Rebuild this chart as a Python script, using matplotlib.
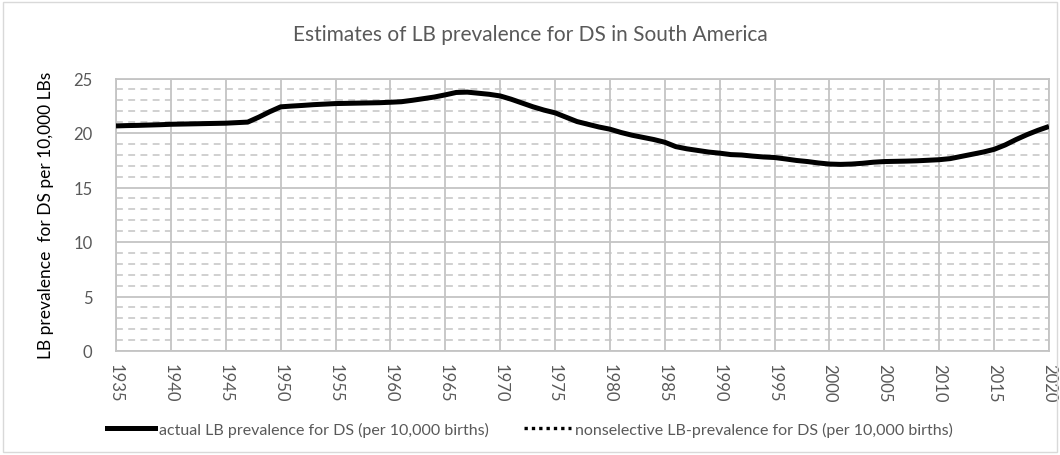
import numpy as np
import matplotlib.pyplot as plt
from matplotlib.patches import Rectangle
from matplotlib.lines import Line2D

years = list(range(1935, 2021))
actual_lb = [
    20.65, 20.68, 20.70, 20.73, 20.76, 20.80, 20.82, 20.84, 20.86, 20.88,   # 1935-1944
    20.90, 20.95, 21.00, 21.45, 21.95, 22.40, 22.47, 22.53, 22.60, 22.65,   # 1945-1954
    22.70, 22.72, 22.74, 22.76, 22.78, 22.82, 22.87, 23.00, 23.15, 23.30,   # 1955-1964
    23.50, 23.72, 23.75, 23.65, 23.55, 23.40, 23.10, 22.75, 22.40, 22.10,   # 1965-1974
    21.85, 21.45, 21.05, 20.80, 20.55, 20.35, 20.05, 19.80, 19.60, 19.40,   # 1975-1984
    19.15, 18.75, 18.55, 18.40, 18.25, 18.15, 18.02, 17.98, 17.88, 17.80,   # 1985-1994
    17.75, 17.62, 17.48, 17.38, 17.25, 17.15, 17.12, 17.15, 17.22, 17.32,   # 1995-2004
    17.38, 17.40, 17.42, 17.45, 17.50, 17.55, 17.65, 17.85, 18.05, 18.25,   # 2005-2014
    18.50, 18.90, 19.40, 19.85, 20.25, 20.60,                               # 2015-2020
]
# second series is in the legend but has no visible points
nonselective_lb = []

title = 'Estimates of LB prevalence for DS in South America'
ylabel = 'LB prevalence  for DS per 10,000 LBs'
label_actual = 'actual LB prevalence for DS (per 10,000 births)'
label_nonsel = 'nonselective LB-prevalence for DS (per 10,000 births)'
xticks = list(range(1935, 2021, 5))
yticks = list(range(0, 26, 5))

plt.rcParams['font.family'] = ['Lato', 'DejaVu Sans']
grey_txt = '#595959'
grid_c = '#c4c4c4'

fig = plt.figure(figsize=(10.6, 4.56), dpi=100)
ax = fig.add_axes([116/1060, 1 - 352/456, (1049 - 116)/1060, (352 - 79.5)/456])

ax.plot(years, actual_lb, color='black', lw=3.6, solid_capstyle='butt', zorder=3)
ax.plot(years[:len(nonselective_lb)], nonselective_lb, color='black', lw=2.4, ls=(0, (1, 1.2)))

ax.set_xlim(1935, 2020)
ax.set_ylim(0, 25)
ax.set_xticks(xticks)
ax.set_yticks(yticks)
ax.set_yticks(np.arange(0, 25, 1), minor=True)
ax.set_xticklabels([str(y) for y in xticks], rotation=-90, color=grey_txt, fontsize=12)
ax.set_yticklabels([str(v) for v in yticks], color=grey_txt, fontsize=12)
ax.tick_params(axis='both', which='both', length=0)
ax.tick_params(axis='x', pad=9)
ax.tick_params(axis='y', pad=17)

ax.grid(True, which='major', color=grid_c, lw=1.3)
ax.grid(True, which='minor', axis='y', color=grid_c, lw=1.1, ls=(0, (4.5, 3.5)))
ax.set_axisbelow(True)
for s in ax.spines.values():
    s.set_color(grid_c)
    s.set_linewidth(1.3)

ax.set_ylabel(ylabel, fontsize=12.5, color='black', labelpad=14)
fig.text(0.5, 1 - 35/456, title, ha='center', va='center', fontsize=15, color=grey_txt)

handles = [Line2D([], [], color='black', lw=3.6),
           Line2D([], [], color='black', lw=2.4, ls=(0, (1, 1.2)))]
fig.legend(handles, [label_actual, label_nonsel], loc='center',
           bbox_to_anchor=(0.5, 1 - 430/456), ncol=2, frameon=False,
           fontsize=11.5, labelcolor=grey_txt, handlelength=3.0,
           handletextpad=0.2, columnspacing=2.2)

fig.patches.append(Rectangle((3/1060, 3/456), 1054/1060, 450/456, transform=fig.transFigure,
                             fill=False, edgecolor='#d9d9d9', lw=1))

fig.savefig('out.png', dpi=100, facecolor='white')
